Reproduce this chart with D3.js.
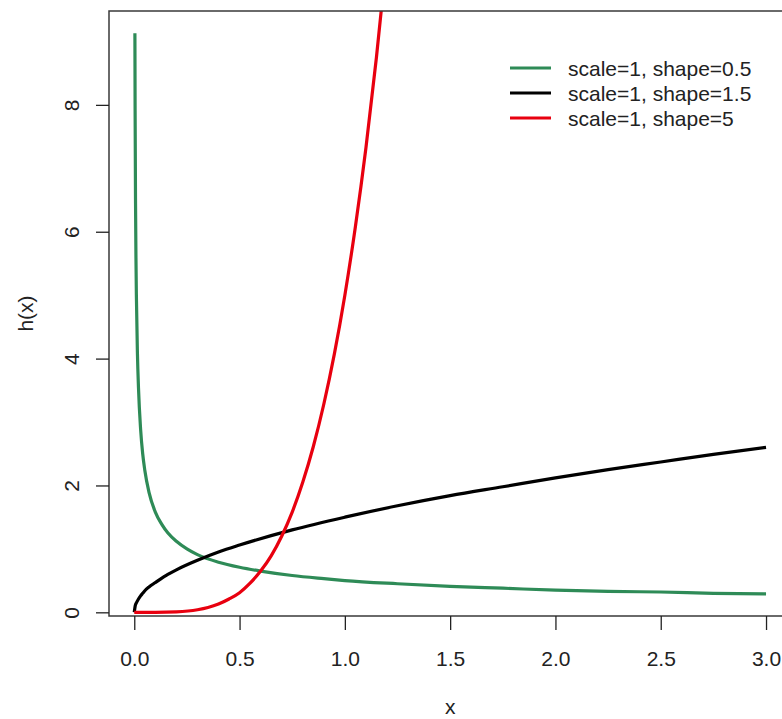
<!DOCTYPE html>
<html>
<head>
<meta charset="utf-8">
<script src="https://cdn.jsdelivr.net/npm/d3@7"></script>
<style>
  html, body { margin: 0; padding: 0; background: #fff; }
  svg { display: block; font-family: "Liberation Sans", Arial, sans-serif; }
</style>
</head>
<body>
<svg id="chart" width="782" height="719"></svg>
<script>
// Weibull hazard curves h(x), scale = 1
const greenX = [0.003, 0.004, 0.006, 0.008, 0.01, 0.015, 0.02, 0.03, 0.04, 0.05, 0.07, 0.1, 0.13, 0.16, 0.2, 0.25, 0.3, 0.4, 0.5, 0.6, 0.75, 0.9, 1.0, 1.25, 1.5, 1.75, 2.0, 2.25, 2.5, 2.75, 3.0];
const greenY = [9.13, 7.91, 6.45, 5.59, 5.00, 4.08, 3.54, 2.89, 2.50, 2.24, 1.89, 1.58, 1.39, 1.25, 1.12, 1.00, 0.91, 0.79, 0.71, 0.65, 0.58, 0.53, 0.50, 0.45, 0.41, 0.38, 0.35, 0.33, 0.32, 0.30, 0.29];

const blackX = [0, 0.005, 0.01, 0.02, 0.03, 0.04, 0.05, 0.07, 0.1, 0.15, 0.2, 0.3, 0.4, 0.5, 0.75, 1.0, 1.25, 1.5, 1.75, 2.0, 2.25, 2.5, 2.75, 3.0];
const blackY = [0, 0.11, 0.15, 0.21, 0.26, 0.30, 0.34, 0.40, 0.47, 0.58, 0.67, 0.82, 0.95, 1.06, 1.30, 1.50, 1.68, 1.84, 1.98, 2.12, 2.25, 2.37, 2.49, 2.60];

const redX = [0, 0.1, 0.2, 0.3, 0.35, 0.4, 0.45, 0.5, 0.55, 0.6, 0.65, 0.7, 0.75, 0.8, 0.85, 0.9, 0.95, 1.0, 1.05, 1.1, 1.15, 1.2];
const redY = [0, 0.0005, 0.008, 0.04, 0.075, 0.13, 0.21, 0.31, 0.46, 0.65, 0.89, 1.20, 1.58, 2.05, 2.61, 3.28, 4.07, 5.00, 6.08, 7.32, 8.75, 10.37];

const legendLabels = ["scale=1, shape=0.5", "scale=1, shape=1.5", "scale=1, shape=5"];
const seriesColors = ["#2e8b57", "#000000", "#e8000f"];

const xTicks = [0, 0.5, 1.0, 1.5, 2.0, 2.5, 3.0];
const yTicks = [0, 2, 4, 6, 8];

const svg = d3.select("#chart");
const box = { left: 109, top: 11, bottom: 616, right: 791.3 };

const x = d3.scaleLinear().domain([-0.12, 3.12]).range([box.left, box.right]);
const y = d3.scaleLinear().domain([-0.058, 9.48]).range([box.bottom, box.top]);

svg.append("defs").append("clipPath").attr("id", "plotClip")
  .append("rect")
  .attr("x", box.left).attr("y", box.top)
  .attr("width", box.right - box.left).attr("height", box.bottom - box.top);

// curves
const series = [
  { xs: greenX, ys: greenY },
  { xs: blackX, ys: blackY },
  { xs: redX, ys: redY }
];
const line = d3.line()
  .x(d => x(d[0]))
  .y(d => y(d[1]))
  .curve(d3.curveMonotoneX);

const plot = svg.append("g").attr("clip-path", "url(#plotClip)");
series.forEach((s, i) => {
  plot.append("path")
    .datum(s.xs.map((v, j) => [v, s.ys[j]]))
    .attr("fill", "none")
    .attr("stroke", seriesColors[i])
    .attr("stroke-width", 3.2)
    .attr("stroke-linejoin", "round")
    .attr("d", line);
});

// plot frame (left, top, bottom; right side lies beyond the canvas)
svg.append("path")
  .attr("d", `M${box.right},${box.top}H${box.left}V${box.bottom}H${box.right}`)
  .attr("fill", "none")
  .attr("stroke", "#3a3a3a")
  .attr("stroke-width", 1.5);

// x axis
const xAxis = d3.axisBottom(x)
  .tickValues(xTicks)
  .tickSize(14)
  .tickPadding(21)
  .tickFormat(d3.format(".1f"));
const gx = svg.append("g").attr("transform", `translate(0,${box.bottom})`).call(xAxis);
gx.select(".domain").remove();
gx.selectAll(".tick line").attr("stroke", "#222").attr("stroke-width", 1.3);
gx.selectAll(".tick text")
  .attr("font-size", 21)
  .attr("fill", "#222")
  .attr("font-family", "'Liberation Sans', Arial, sans-serif");

// y axis with rotated labels
const yAxis = d3.axisLeft(y)
  .tickValues(yTicks)
  .tickSize(13)
  .tickFormat(d3.format("d"));
const gy = svg.append("g").attr("transform", `translate(${box.left},0)`).call(yAxis);
gy.select(".domain").remove();
gy.selectAll(".tick line").attr("stroke", "#222").attr("stroke-width", 1.3);
gy.selectAll(".tick text")
  .attr("x", null).attr("dy", null)
  .attr("transform", "translate(-30,0) rotate(-90)")
  .attr("text-anchor", "middle")
  .attr("font-size", 21)
  .attr("fill", "#222")
  .attr("font-family", "'Liberation Sans', Arial, sans-serif");

// axis titles
svg.append("text")
  .attr("x", (box.left + box.right) / 2)
  .attr("y", 714)
  .attr("text-anchor", "middle")
  .attr("font-size", 21)
  .attr("fill", "#222")
  .text("x");

svg.append("text")
  .attr("transform", `translate(33,${(box.top + box.bottom) / 2}) rotate(-90)`)
  .attr("text-anchor", "middle")
  .attr("font-size", 21)
  .attr("fill", "#222")
  .text("h(x)");

// legend
const legend = svg.append("g");
legendLabels.forEach((label, i) => {
  const cy = 68 + i * 25;
  legend.append("line")
    .attr("x1", 510).attr("x2", 551)
    .attr("y1", cy).attr("y2", cy)
    .attr("stroke", seriesColors[i])
    .attr("stroke-width", 3);
  legend.append("text")
    .attr("x", 568)
    .attr("y", cy + 7.5)
    .attr("font-size", 21)
    .attr("fill", "#222")
    .text(label);
});
</script>
</body>
</html>
